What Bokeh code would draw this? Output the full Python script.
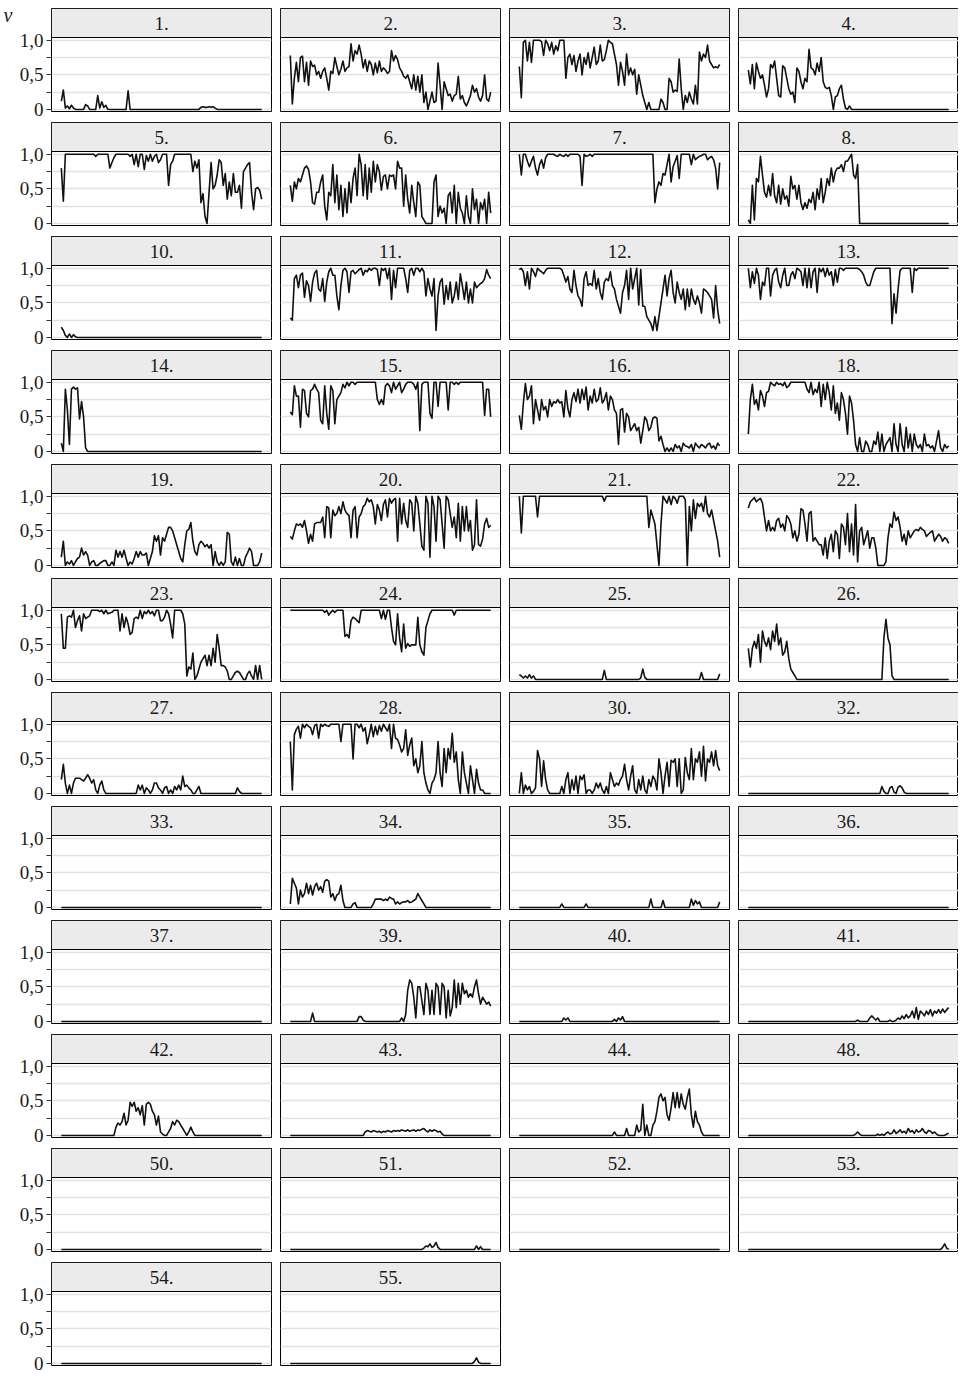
from bokeh.plotting import figure
from bokeh.layouts import gridplot
from bokeh.models import Range1d, FixedTicker, BoxAnnotation, Label, LinearAxis
from bokeh.embed import file_html
from bokeh.resources import INLINE

labels = ["1.", "2.", "3.", "4.", "5.", "6.", "7.", "8.", "10.", "11.", "12.", "13.",
          "14.", "15.", "16.", "18.", "19.", "20.", "21.", "22.", "23.", "24.", "25.", "26.",
          "27.", "28.", "30.", "32.", "33.", "34.", "35.", "36.", "37.", "39.", "40.", "41.",
          "42.", "43.", "44.", "48.", "50.", "51.", "52.", "53.", "54.", "55."]

# values in hundredths (nu * 100), 100 time steps per panel
s1 = [12, 28, 2, 5, 1, 6, 2, 0, 0, 0, 0, 0, 7, 5, 0, 0, 0, 0, 20, 2, 11, 3, 6] + [0]*10 + [27] + [0]*35 + [3, 4, 3, 3, 4, 3, 4, 2] + [0]*23
s2 = [78, 8, 45, 68, 40, 75, 77, 40, 68, 35, 70, 62, 64, 50, 55, 45, 55, 60, 45, 28,
      55, 52, 75, 62, 50, 58, 70, 55, 60, 62, 95, 70, 85, 80, 93, 80, 60, 72, 55, 70,
      65, 50, 67, 53, 70, 55, 60, 57, 52, 55, 85, 70, 78, 72, 60, 55, 48, 45, 50, 40,
      30, 50, 28, 48, 25, 50, 10, 25, 0, 12, 25, 10, 12, 67, 35, 0, 40, 30, 20, 22,
      12, 20, 22, 48, 15, 20, 10, 5, 12, 20, 35, 25, 30, 18, 12, 20, 50, 15, 12, 25]
s3 = [62, 17, 97, 100, 70, 97, 68, 100, 100, 100, 100, 98, 78, 100, 95, 85, 97, 80, 92, 85,
      100, 100, 100, 45, 75, 80, 65, 78, 55, 70, 80, 50, 75, 65, 82, 60, 75, 90, 65, 70,
      93, 70, 72, 85, 100, 97, 95, 80, 65, 35, 68, 55, 35, 80, 50, 60, 50, 58, 22, 50,
      35, 20, 10, 0, 10, 0, 0, 0, 0, 0, 15, 10, 0, 0, 45, 40, 25, 28, 26, 73,
      30, 0, 20, 10, 25, 15, 8, 35, 8, 83, 70, 80, 75, 93, 70, 65, 60, 62, 60, 65]
s4 = [57, 37, 65, 30, 67, 55, 45, 50, 35, 18, 30, 65, 60, 70, 45, 20, 18, 63, 60, 45,
      30, 22, 25, 10, 60, 55, 40, 30, 45, 40, 87, 60, 58, 50, 67, 55, 75, 40, 32, 30,
      32, 20, 0, 18, 20, 30, 35, 15, 2, 0, 5] + [0]*49
s5 = [80, 32, 100, 100, 100, 100, 100, 100, 100, 100, 100, 100, 100, 100, 100, 100, 100, 97, 100, 100,
      100, 100, 100, 100, 80, 88, 95, 100, 100, 100, 100, 100, 100, 100, 97, 100, 85, 100, 82, 100,
      100, 78, 98, 90, 100, 90, 97, 100, 88, 92, 100, 100, 100, 55, 85, 90, 100, 100, 100, 100,
      100, 100, 100, 100, 100, 75, 90, 80, 92, 30, 43, 10, 0, 45, 88, 50, 55, 70, 92, 88,
      55, 72, 35, 60, 40, 72, 45, 45, 55, 22, 75, 80, 85, 88, 45, 20, 50, 52, 48, 35]
s6 = [55, 32, 60, 50, 65, 60, 70, 80, 83, 78, 60, 30, 28, 45, 45, 60, 70, 25, 5, 45,
      40, 85, 30, 70, 20, 55, 10, 50, 15, 60, 30, 65, 80, 40, 100, 85, 40, 85, 35, 80,
      45, 90, 60, 85, 75, 48, 68, 70, 50, 70, 68, 70, 50, 90, 80, 80, 25, 70, 35, 15,
      55, 30, 10, 60, 55, 10, 5, 0, 0, 0, 0, 60, 70, 10, 25, 15, 22, 0, 40, 45,
      15, 55, 0, 45, 22, 15, 0, 40, 10, 0, 50, 20, 35, 0, 30, 20, 35, 0, 45, 15]
s7 = [100, 70, 100, 100, 90, 82, 90, 97, 80, 70, 85, 92, 80, 95, 100, 100, 100, 100, 98, 97,
      100, 98, 97, 100, 97, 100, 100, 100, 100, 100] + [97, 55, 100, 97, 98, 100, 97] + [100]*30 + [30, 50, 60,
      55, 72, 70, 85, 100, 60, 82, 90, 98, 65, 100, 100, 100, 100, 100, 85, 100, 92, 95, 97,
      98, 100, 100, 92, 95, 97, 92, 80, 50, 88]
s8 = [5, 0, 55, 5, 65, 60, 97, 70, 45, 38, 55, 40, 72, 40, 30, 55, 28, 50, 35, 40,
      25, 68, 50, 55, 35, 55, 30, 20, 30, 22, 35, 30, 45, 20, 50, 35, 65, 30, 45, 65,
      55, 80, 60, 75, 80, 80, 85, 75, 90, 90, 95, 100, 70, 65, 85] + [0]*45
s10 = [15, 10, 3, 0, 5, 0, 4, 1] + [0]*92
s11 = [28, 25, 85, 90, 72, 90, 93, 58, 82, 75, 52, 80, 93, 97, 70, 67, 85, 52, 80, 95,
       100, 90, 90, 60, 40, 75, 97, 100, 95, 65, 95, 97, 92, 95, 98, 100, 90, 97, 95, 100,
       97, 100, 100, 98, 75, 100, 97, 100, 85, 100, 55, 97, 72, 100, 100, 100, 100, 85, 65, 97,
       100, 90, 100, 100, 95, 100, 95, 60, 85, 70, 60, 85, 10, 60, 80, 85, 48, 75, 55, 80,
       50, 60, 80, 55, 92, 75, 55, 80, 50, 70, 50, 80, 72, 75, 78, 80, 85, 98, 90, 85]
s12 = [98, 100, 95, 75, 95, 70, 100, 95, 88, 100, 97, 95, 92, 97, 100, 100, 100, 100, 100, 100,
       100, 98, 90, 80, 88, 70, 65, 97, 75, 60, 55, 45, 85, 95, 75, 78, 75, 97, 70, 85,
       65, 55, 80, 85, 82, 95, 75, 70, 55, 45, 35, 65, 75, 97, 55, 100, 70, 85, 100, 47,
       98, 45, 45, 30, 25, 20, 10, 30, 10, 30, 50, 70, 90, 60, 85, 97, 65, 50, 80, 65,
       55, 70, 40, 70, 45, 70, 55, 48, 60, 50, 35, 70, 68, 65, 60, 55, 28, 75, 40, 20]
s13 = [100, 72, 95, 78, 100, 90, 55, 80, 75, 100, 100, 60, 90, 97, 100, 80, 72, 90, 100, 75,
       75, 90, 95, 85, 100, 98, 95, 75, 100, 72, 100, 72, 95, 100, 65, 100, 95, 100, 88, 100,
       90, 95, 75, 98, 80, 100, 100, 97, 100, 100, 100, 100, 100, 100, 100, 98, 95, 90, 80, 75,
       75, 85, 95, 100, 100, 100, 100, 100, 100, 100, 100, 20, 63, 35, 70, 97, 100, 100, 100, 100,
       100, 65, 100, 97, 100, 100, 100, 100, 100, 100] + [100]*10
s14 = [12, 0, 90, 60, 10, 90, 93, 90, 92, 47, 72, 50, 5, 0] + [0]*86
s15 = [57, 53, 95, 80, 80, 35, 90, 88, 55, 50, 88, 90, 97, 90, 85, 45, 40, 95, 55, 32,
       95, 88, 40, 75, 80, 85, 97, 92, 100, 95, 100, 100, 97, 100, 100, 100, 100, 100, 100, 100,
       100, 100, 100, 75, 68, 75, 68, 95, 98, 95, 85, 100, 90, 95, 100, 85, 90, 97, 100, 100,
       100, 97, 90, 100, 30, 97, 100, 100, 100, 55, 48, 100, 100, 65, 100, 100, 100, 100, 60, 100,
       100, 97, 100, 97, 100, 100, 100, 100, 100, 100, 100, 100, 100, 100, 100, 100, 52, 90, 90, 50]
s16 = [52, 32, 70, 98, 75, 80, 95, 40, 75, 60, 45, 75, 60, 65, 50, 75, 65, 72, 70, 75,
       70, 72, 50, 88, 62, 50, 75, 85, 72, 90, 70, 90, 75, 93, 60, 80, 70, 90, 72, 75,
       92, 70, 75, 85, 60, 80, 75, 60, 55, 10, 60, 62, 28, 55, 50, 30, 35, 40, 30, 35,
       12, 30, 50, 45, 30, 35, 48, 50, 48, 15, 22, 10, 0, 5, 0, 5, 0, 10, 5, 8,
       0, 12, 8, 7, 5, 10, 0, 12, 8, 5, 10, 8, 5, 10, 12, 5, 8, 3, 12, 8]
s18 = [25, 75, 97, 68, 75, 60, 88, 80, 65, 85, 87, 100, 97, 95, 100, 97, 98, 95, 100, 92,
       95, 100, 100, 100, 100, 100, 100, 100, 100, 90, 85, 100, 82, 90, 85, 100, 65, 97, 75, 100,
       85, 60, 95, 55, 70, 45, 85, 75, 55, 25, 80, 70, 45, 10, 0, 20, 0, 0, 15, 10,
       0, 0, 15, 10, 28, 0, 25, 0, 10, 15, 20, 0, 40, 10, 0, 40, 10, 0, 35, 5,
       25, 0, 25, 10, 5, 10, 0, 25, 8, 10, 5, 8, 0, 15, 30, 5, 0, 10, 5, 8]
s19 = [12, 35, 0, 5, 2, 7, 0, 5, 10, 12, 25, 15, 20, 15, 0, 5, 7, 0, 0, 3,
       5, 7, 7, 0, 0, 5, 0, 22, 12, 20, 12, 22, 10, 0, 5, 2, 10, 20, 12, 20,
       15, 15, 18, 0, 10, 20, 43, 35, 43, 15, 40, 35, 45, 55, 55, 50, 40, 30, 20, 10,
       5, 30, 50, 52, 62, 35, 20, 15, 30, 35, 32, 27, 30, 25, 30, 0, 20, 5, 0, 5,
       0, 5, 48, 45, 5, 0, 12, 0, 10, 0, 0, 12, 18, 25, 20, 0, 0, 0, 5, 18]
s20 = [42, 38, 50, 60, 58, 60, 55, 65, 50, 32, 45, 35, 60, 62, 62, 62, 70, 40, 85, 83,
       40, 80, 72, 75, 85, 75, 92, 80, 75, 72, 40, 80, 85, 40, 70, 75, 85, 88, 97, 92,
       95, 85, 60, 88, 80, 65, 88, 95, 70, 97, 90, 95, 97, 35, 97, 60, 90, 65, 55, 95,
       90, 50, 100, 90, 60, 28, 22, 100, 90, 12, 100, 85, 35, 100, 95, 60, 25, 100, 95, 75,
       55, 70, 40, 90, 35, 85, 50, 85, 50, 65, 22, 30, 95, 30, 28, 38, 60, 68, 55, 58]
s21 = [100, 47, 100, 100, 100, 100, 100, 100, 100, 70] + [100]*32 + [93] + [100]*21 + [55, 80, 70, 60, 30, 0,
       60, 100, 95, 90, 100, 88, 100, 97, 90, 100, 100, 100, 95, 0, 85, 50, 95, 68, 90, 85,
       90, 78, 100, 75, 70, 80, 65, 50, 35, 12]
s22 = [83, 92, 95, 98, 92, 95, 97, 90, 70, 50, 65, 50, 55, 50, 65, 68, 55, 60, 50, 72,
       68, 60, 40, 50, 35, 45, 82, 80, 60, 35, 75, 78, 35, 40, 35, 30, 30, 15, 40, 10,
       35, 45, 20, 50, 45, 10, 60, 55, 30, 75, 20, 60, 15, 88, 5, 50, 55, 30, 40, 50,
       25, 40, 40, 25, 0, 0, 0, 0, 5, 40, 60, 55, 77, 65, 70, 55, 35, 45, 30, 50,
       40, 45, 50, 52, 50, 55, 52, 50, 42, 45, 48, 50, 35, 40, 45, 42, 35, 40, 38, 32]
s23 = [95, 45, 45, 90, 92, 90, 100, 75, 85, 92, 70, 95, 88, 90, 92, 100, 100, 100, 100, 98,
       100, 95, 100, 95, 96, 97, 100, 100, 100, 70, 95, 75, 90, 80, 65, 68, 88, 90, 88, 100,
       88, 98, 95, 100, 95, 98, 92, 100, 100, 85, 85, 90, 100, 95, 80, 60, 100, 100, 100, 100,
       95, 80, 5, 18, 15, 38, 0, 5, 15, 25, 30, 35, 20, 35, 20, 45, 25, 65, 45, 20,
       20, 18, 12, 0, 0, 5, 10, 12, 10, 5, 0, 0, 8, 12, 5, 0, 20, 0, 20, 0]
s24 = [100]*17 + [97, 100, 93, 97, 100, 97, 100, 100, 100, 100, 62, 65, 60,
       85, 90, 88, 85, 82, 100, 100, 100, 100, 100, 100, 100, 100, 100, 100, 88, 100, 87, 100, 100,
       75, 55, 50, 95, 60, 40, 80, 45, 52, 48, 50, 50, 50, 90, 50, 40, 35, 75, 85, 95] + [100]*11 + [93] + [100]*18
s25 = [7, 5, 2, 5, 2, 7, 2, 5] + [0]*34 + [13] + [0]*17 + [2, 15, 3] + [0]*27 + [10] + [0]*8 + [8]
s26 = [45, 18, 45, 55, 45, 65, 25, 70, 55, 48, 60, 43, 70, 55, 80, 50, 60, 35, 40, 55, 30, 15, 10, 5] + [0]*43 + [60, 87, 60, 50, 5] + [0]*28
s27 = [20, 42, 15, 0, 12, 0, 15, 22, 22, 22, 20, 18, 22, 27, 22, 15, 20, 5, 0, 12, 18, 5] + [0]*16 + \
      [12, 5, 12, 0, 8, 5, 0, 5, 15, 15, 8, 5, 0, 8, 10, 0, 5, 0, 10, 5, 12, 5, 25, 10, 12, 8, 5, 0, 0, 5, 10] + [0]*18 + [8, 3] + [0]*11
s28 = [75, 5, 85, 93, 97, 80, 100, 95, 100, 97, 95, 85, 98, 100, 80, 100, 97, 100, 98, 97,
       100, 100, 100, 100, 100, 75, 100, 100, 100, 100, 100, 50, 100, 100, 95, 100, 90, 95, 72, 85,
       100, 82, 97, 85, 98, 90, 100, 95, 90, 100, 65, 100, 80, 78, 70, 60, 65, 92, 55, 70,
       80, 40, 50, 30, 40, 75, 30, 15, 5, 0, 15, 20, 30, 75, 30, 10, 65, 30, 65, 50,
       87, 45, 60, 20, 0, 60, 30, 15, 0, 40, 20, 0, 35, 15, 5, 5, 0, 0, 0, 0]
s30 = [0, 30, 0, 12, 5, 10, 0, 3, 8, 62, 50, 10, 47, 20, 5, 0, 0, 0, 0, 0,
       0, 10, 0, 20, 30, 0, 20, 5, 25, 0, 25, 20, 27, 0, 5, 5, 0, 5, 15, 8,
       15, 5, 0, 10, 0, 30, 20, 10, 15, 12, 20, 25, 42, 20, 5, 25, 40, 5, 0, 20,
       5, 25, 5, 0, 20, 10, 25, 20, 5, 50, 30, 0, 25, 45, 10, 48, 45, 50, 10, 50,
       0, 5, 52, 30, 20, 65, 20, 50, 45, 60, 25, 68, 18, 50, 45, 60, 40, 62, 40, 33]
s32 = [0]*66 + [10, 3, 0, 0, 8, 10, 2, 0, 9, 11, 8, 2] + [0]*22
s33 = [0]*100
s34 = [5, 42, 35, 28, 5, 25, 15, 20, 35, 20, 32, 18, 30, 35, 25, 30, 22, 38, 40, 38,
       15, 20, 10, 18, 20, 32, 10, 0, 0, 0, 0, 5, 7, 0, 0, 0, 0, 0, 0, 0,
       0, 5, 12, 12, 12, 12, 10, 12, 10, 15, 13, 12, 5, 8, 5, 7, 8, 8, 10, 7,
       8, 10, 12, 20, 15, 10, 5, 0, 0, 0] + [0]*30
s35 = [0]*21 + [5] + [0]*11 + [5] + [0]*31 + [12] + [0]*5 + [10] + [0]*13 + [12, 3, 10, 5, 8] + [0]*9 + [8]
s36 = [0]*100
s37 = [0]*100
s39 = [0]*11 + [12] + [0]*22 + [7, 7, 2] + [0]*18 + \
      [5, 0, 10, 45, 60, 55, 35, 5, 50, 50, 30, 10, 55, 45, 10, 45, 10, 55, 50, 10,
       55, 50, 5, 45, 8, 20, 60, 20, 55, 25, 55, 40, 45, 35, 40, 35, 50, 60, 40, 25, 35, 30, 25, 28, 22]
s40 = [0]*22 + [5, 2, 5] + [0]*22 + [3, 0, 5, 2, 7] + [0]*48
s41 = [0]*54 + [2] + [0]*5 + [5, 8, 5, 2, 5, 0, 0, 0, 0, 0, 2, 0, 0, 2, 5, 3, 8, 4, 10, 5,
       8, 15, 5, 20, 3, 15, 12, 8, 15, 10, 17, 8, 15, 12, 17, 12, 18, 13, 17, 20]
s42 = [0]*27 + [12, 18, 15, 20, 32, 15, 22, 48, 42, 48, 35, 40, 30, 43, 15, 45, 48, 45, 35, 30,
       15, 28, 5, 2, 0, 0, 5, 10, 20, 15, 22, 20, 15, 10, 5, 0, 5, 12, 5] + [0]*34
s43 = [0]*37 + [5, 7, 6, 5, 7, 6, 5, 6, 4, 6, 5, 7, 6, 5, 7, 6, 7, 6, 8, 7,
       6, 8, 6, 7, 8, 6, 8, 7, 9, 10, 7, 5, 8, 6, 8, 7, 5, 6, 2] + [0]*24
s44 = [0]*47 + [5] + [0]*5 + [10] + [0]*4 + [15, 5, 8, 45, 0, 15, 0, 0, 15, 20, 35, 55, 60, 50, 55, 30, 22, 40, 62, 40,
       62, 40, 60, 45, 38, 55, 67, 30, 12, 35, 20, 15, 5] + [0]*9
s48 = [0]*53 + [2, 5, 2] + [0]*8 + [2, 0, 2, 0, 3, 5, 2, 3, 8, 3, 5, 8, 4, 6, 3, 10, 5, 7, 3, 8,
       5, 6, 10, 5, 3, 7, 6, 3, 5, 2, 0, 0, 0, 0, 2, 3]
s50 = [0]*100
s51 = [0]*66 + [2, 5, 4, 8, 3, 5, 10, 3] + [0]*18 + [5, 0, 4] + [0]*5
s52 = [0]*100
s53 = [0]*96 + [3, 8, 2, 0]
s54 = [0]*100
s55 = [0]*91 + [3, 8, 2] + [0]*6

series = [s1, s2, s3, s4, s5, s6, s7, s8, s10, s11, s12, s13, s14, s15, s16, s18,
          s19, s20, s21, s22, s23, s24, s25, s26, s27, s28, s30, s32, s33, s34, s35, s36,
          s37, s39, s40, s41, s42, s43, s44, s48, s50, s51, s52, s53, s54, s55]

ytick_vals = [0, 0.25, 0.5, 0.75, 1.0]
ytick_text = {0: "0", 0.25: "", 0.5: "0,5", 0.75: "", 1.0: "1,0"}
ylabel_text = "ν"

N = 100
XPAD = 4.85
FW, FH = 220, 103
STRIP = 29
Y0, Y1 = -0.03, 1.04
YTOP = Y1 + STRIP * (Y1 - Y0) / (FH - STRIP)
YNU = Y1 + 0.78 * (YTOP - Y1)
NCOL = 4
FONT = "Liberation Serif"
TXT = "#1a1a1a"


def panel(k, label, vals):
    row, col = divmod(k, NCOL)
    left = col == 0
    p = figure(frame_width=FW, frame_height=FH,
               x_range=Range1d(1 - XPAD, N + XPAD), y_range=Range1d(Y0, YTOP),
               output_backend="svg", toolbar_location=None, tools="",
               x_axis_location=None, y_axis_location="left" if left else None,
               min_border=0,
               min_border_left=50 if left else 0,
               min_border_right=9 if col < NCOL - 1 else 0,
               min_border_top=8 if row == 0 else 0,
               min_border_bottom=11)
    p.background_fill_color = "white"
    p.border_fill_color = "white"
    p.outline_line_color = "black"
    p.outline_line_width = 1
    p.outline_line_alpha = 1
    p.xgrid.visible = False
    p.ygrid.ticker = FixedTicker(ticks=ytick_vals)
    p.ygrid.grid_line_color = "#E2E2E2"
    p.ygrid.grid_line_width = 1.3
    if left:
        ax = p.yaxis[0]
        ax.ticker = FixedTicker(ticks=ytick_vals)
        ax.major_label_overrides = ytick_text
        ax.axis_line_color = None
        ax.major_tick_line_color = "#333333"
        ax.major_tick_line_width = 1
        ax.major_tick_out = 5
        ax.major_tick_in = 0
        ax.minor_tick_line_color = None
        ax.major_label_standoff = 3
        ax.major_label_text_font = FONT
        ax.major_label_text_font_size = "19px"
        ax.major_label_text_color = TXT
        if k == 0:
            nu = LinearAxis(ticker=FixedTicker(ticks=[YNU]),
                            major_label_overrides={YNU: ylabel_text})
            nu.axis_line_color = None
            nu.major_tick_line_color = None
            nu.major_tick_out = 0
            nu.major_tick_in = 0
            nu.minor_tick_line_color = None
            nu.major_label_standoff = 4
            nu.major_label_text_font = FONT
            nu.major_label_text_font_style = "italic"
            nu.major_label_text_font_size = "20px"
            nu.major_label_text_color = TXT
            p.add_layout(nu, "left")
    xs = list(range(1, len(vals) + 1))
    ys = [v / 100 for v in vals]
    p.line(xs, ys, line_color="#111111", line_width=1.6, line_join="round")
    p.add_layout(BoxAnnotation(bottom=Y1, fill_color="#EBEBEB", fill_alpha=1,
                               line_color="black", line_width=1, line_alpha=1))
    p.add_layout(Label(x=(1 + N) / 2, y=(Y1 + YTOP) / 2, text=label,
                       text_align="center", text_baseline="middle",
                       text_font=FONT, text_font_size="19px", text_color=TXT))
    return p


figs = [panel(k, lab, v) for k, (lab, v) in enumerate(zip(labels, series))]
rows = [figs[i:i + NCOL] for i in range(0, len(figs), NCOL)]
while len(rows[-1]) < NCOL:
    rows[-1].append(None)

grid = gridplot(rows, toolbar_location=None)
open("out.html", "w").write(file_html(grid, INLINE))
